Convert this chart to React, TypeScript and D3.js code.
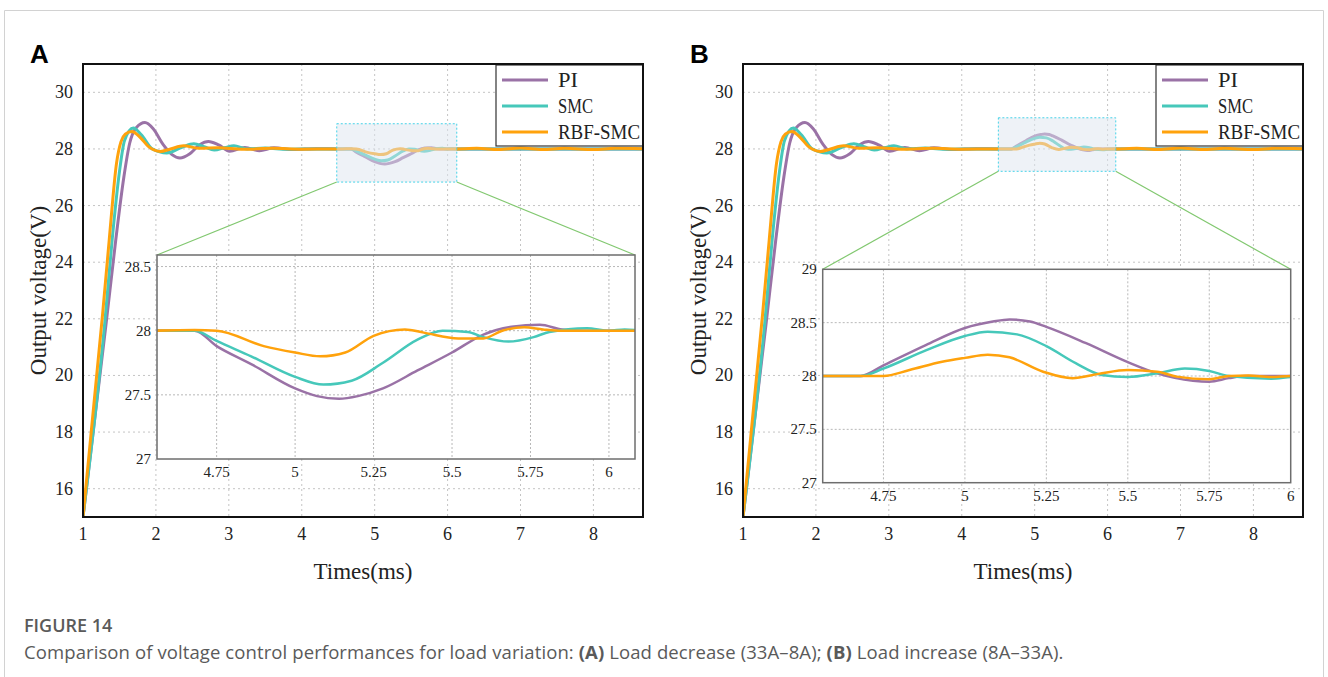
import * as React from "react";
import * as d3 from "d3";

type Pt = [number, number];

const seriesNames = ["PI", "SMC", "RBF-SMC"];
const seriesColors = ["#9a72a6", "#46c8ba", "#ffa20c"];
const legendWidths = [20, 35, 82];

const mainXTicks = [1, 2, 3, 4, 5, 6, 7, 8];
const mainYTicks = [16, 18, 20, 22, 24, 26, 28, 30];
const insetXTicks = [4.75, 5, 5.25, 5.5, 5.75, 6];
const insetYTicksA = [27, 27.5, 28, 28.5];
const insetYTicksB = [27, 27.5, 28, 28.5, 29];

// start-up transient, shared by both cases
const piStart: Pt[] = [
  [1, 15], [1.32, 21.9], [1.45, 24.8], [1.56, 27.0], [1.64, 28.2], [1.73, 28.75],
  [1.85, 28.93], [1.96, 28.72], [2.1, 28.15], [2.22, 27.8], [2.33, 27.68], [2.46, 27.82],
  [2.6, 28.15], [2.72, 28.26], [2.86, 28.14], [3.01, 27.92], [3.22, 28.05], [3.42, 27.94],
  [3.62, 28.04], [3.88, 27.98], [4.2, 28.01], [4.5, 28],
];
const smcStart: Pt[] = [
  [1, 15], [1.3, 21.9], [1.4, 24.8], [1.5, 27.2], [1.57, 28.3], [1.69, 28.74],
  [1.8, 28.5], [1.95, 28.0], [2.15, 27.86], [2.35, 28.05], [2.52, 28.18], [2.66, 28.08],
  [2.8, 27.96], [2.95, 28.05], [3.07, 28.11], [3.25, 28.0], [3.5, 28.03], [3.8, 27.99],
  [4.2, 28.0], [4.5, 28],
];
const rbfStart: Pt[] = [
  [1, 15], [1.27, 22.2], [1.36, 24.8], [1.46, 27.5], [1.52, 28.25], [1.58, 28.52],
  [1.67, 28.62], [1.78, 28.42], [1.9, 28.08], [2.06, 27.91], [2.2, 28.0], [2.38, 28.11],
  [2.6, 28.02], [2.85, 28.04], [3.2, 27.99], [3.6, 28.02], [4.0, 27.99], [4.5, 28.0],
];

// (A) load decrease
const piDropA: Pt[] = [
  [4.55, 28], [4.68, 28], [4.75, 27.88], [4.86, 27.74], [5.0, 27.55], [5.07, 27.49],
  [5.14, 27.47], [5.2, 27.49], [5.28, 27.55], [5.39, 27.69], [5.5, 27.83], [5.6, 27.97],
  [5.69, 28.03], [5.78, 28.046], [5.85, 28.01], [5.92, 28], [6.1, 28],
];
const smcDropA: Pt[] = [
  [4.55, 28], [4.68, 28], [4.75, 27.92], [4.86, 27.8], [5.0, 27.64], [5.09, 27.58],
  [5.18, 27.61], [5.28, 27.75], [5.39, 27.93], [5.47, 28.0], [5.55, 27.99], [5.6, 27.95],
  [5.68, 27.915], [5.76, 27.95], [5.81, 27.99], [5.93, 28.02], [6.0, 28.0], [6.05, 28.01],
  [6.1, 28],
];
const rbfDropA: Pt[] = [
  [4.55, 28], [4.68, 28.005], [4.75, 28.0], [4.9, 27.88], [5.0, 27.83], [5.08, 27.8],
  [5.16, 27.83], [5.25, 27.96], [5.35, 28.01], [5.41, 27.985], [5.52, 27.94], [5.6, 27.94],
  [5.66, 28.0], [5.73, 28.026], [5.79, 28.01], [5.85, 28.0], [6.1, 28],
];

// (B) load increase
const piRiseB: Pt[] = [
  [4.55, 28], [4.68, 28], [4.75, 28.1], [4.88, 28.29], [5.0, 28.45], [5.086, 28.51],
  [5.137, 28.53], [5.2, 28.51], [5.25, 28.46], [5.37, 28.31], [5.5, 28.13], [5.59, 28.025],
  [5.7, 27.956], [5.75, 27.947], [5.81, 27.98], [5.86, 28], [6.1, 28],
];
const smcRiseB: Pt[] = [
  [4.55, 28], [4.68, 28], [4.75, 28.07], [4.88, 28.24], [5.0, 28.375], [5.07, 28.415],
  [5.16, 28.39], [5.25, 28.28], [5.34, 28.12], [5.42, 28.01], [5.5, 27.99], [5.59, 28.025],
  [5.675, 28.07], [5.75, 28.047], [5.81, 28.0], [5.94, 27.975], [6.0, 27.99], [6.1, 28],
];
const rbfRiseB: Pt[] = [
  [4.55, 28], [4.75, 28], [4.83, 28.056], [4.93, 28.134], [5.0, 28.17], [5.07, 28.2],
  [5.137, 28.175], [5.24, 28.04], [5.33, 27.98], [5.41, 28.02], [5.5, 28.056], [5.59, 28.04],
  [5.65, 27.994], [5.75, 27.97], [5.81, 28.0], [5.87, 28.005], [5.94, 27.99], [6.0, 28],
  [6.1, 28],
];

// steady state after the load step
const flatTail: Pt[] = [[6.4, 28], [8.8, 28]];
const rbfTail: Pt[] = [
  [6.4, 28.02], [6.7, 27.98], [7.0, 28.03], [7.3, 27.98], [7.6, 28.02], [8.0, 27.98],
  [8.3, 28.02], [8.8, 28],
];

const serif = "'Liberation Serif', 'Times New Roman', serif";

type PanelProps = {
  id: string;
  letter: string;
  dx: number;
  step: Pt[][];
  inset: { x0: number; x1: number; y0: number; y1: number; xd: [number, number]; yd: [number, number]; yTicks: number[] };
  zoom: { xd: [number, number]; yd: [number, number] };
};

function Panel({ id, letter, dx, step, inset, zoom }: PanelProps) {
  const left = 83 + dx, right = 643 + dx, top = 64, bottom = 517;
  const x = d3.scaleLinear().domain([1, 8.68]).range([left, right]);
  const y = d3.scaleLinear().domain([15, 31]).range([bottom, top]);
  const ix = d3.scaleLinear().domain(inset.xd).range([inset.x0 + dx, inset.x1 + dx]);
  const iy = d3.scaleLinear().domain(inset.yd).range([inset.y1, inset.y0]);

  const mainLine = d3.line<Pt>().x(d => x(d[0])).y(d => y(d[1])).curve(d3.curveMonotoneX);
  const insetLine = d3.line<Pt>().x(d => ix(d[0])).y(d => iy(d[1])).curve(d3.curveMonotoneX);

  const full = [
    [...piStart, ...step[0], ...flatTail],
    [...smcStart, ...step[1], ...flatTail],
    [...rbfStart, ...step[2], ...rbfTail],
  ];

  const zx0 = x(zoom.xd[0]), zx1 = x(zoom.xd[1]);
  const zy0 = y(zoom.yd[1]), zy1 = y(zoom.yd[0]);
  const ibx0 = ix.range()[0], ibx1 = ix.range()[1];
  const iby0 = inset.y0, iby1 = inset.y1;

  const legX = 496 + dx, legY = 65;

  return (
    <g>
      <defs>
        <clipPath id={`main-${id}`}>
          <rect x={left} y={top} width={right - left} height={bottom - top} />
        </clipPath>
        <clipPath id={`inset-${id}`}>
          <rect x={ibx0} y={iby0} width={ibx1 - ibx0} height={iby1 - iby0} />
        </clipPath>
      </defs>

      <text x={30 + dx} y={63} fontFamily="'Liberation Sans', Arial, sans-serif" fontWeight="bold" fontSize={26}>
        {letter}
      </text>

      {/* main grid */}
      <g stroke="#c4c4c4" strokeWidth={1} strokeDasharray="2,3">
        {mainXTicks.slice(1).map(t => (
          <line key={`gx${t}`} x1={x(t)} x2={x(t)} y1={top} y2={bottom} />
        ))}
        {mainYTicks.map(t => (
          <line key={`gy${t}`} x1={left} x2={right} y1={y(t)} y2={y(t)} />
        ))}
      </g>

      <g clipPath={`url(#main-${id})`} fill="none" strokeWidth={3} strokeLinejoin="round">
        {full.map((d, i) => (
          <path key={i} d={mainLine(d) ?? ""} stroke={seriesColors[i]} />
        ))}
      </g>

      {/* zoom window */}
      <rect x={zx0} y={zy0} width={zx1 - zx0} height={zy1 - zy0} fill="#dde6f0" fillOpacity={0.5}
        stroke="#45d3e8" strokeWidth={1} strokeDasharray="2,2" />
      <g stroke="#82c870" strokeWidth={1.2}>
        <line x1={zx0} y1={zy1} x2={ibx0} y2={iby0} />
        <line x1={zx1} y1={zy1} x2={ibx1} y2={iby0} />
      </g>

      {/* inset */}
      <rect x={ibx0} y={iby0} width={ibx1 - ibx0} height={iby1 - iby0} fill="#fff" />
      <g stroke="#b8b8b8" strokeWidth={1} strokeDasharray="2,2">
        {insetXTicks.filter(t => t < inset.xd[1] - 0.01).map(t => (
          <line key={`ix${t}`} x1={ix(t)} x2={ix(t)} y1={iby0} y2={iby1} />
        ))}
        {inset.yTicks.filter(t => t > inset.yd[0] && t < inset.yd[1]).map(t => (
          <line key={`iy${t}`} x1={ibx0} x2={ibx1} y1={iy(t)} y2={iy(t)} />
        ))}
      </g>
      <g clipPath={`url(#inset-${id})`} fill="none" strokeWidth={2.5} strokeLinejoin="round">
        {step.map((d, i) => (
          <path key={i} d={insetLine(d) ?? ""} stroke={seriesColors[i]} />
        ))}
      </g>
      <rect x={ibx0} y={iby0} width={ibx1 - ibx0} height={iby1 - iby0} fill="none" stroke="#6e6e6e" strokeWidth={1.5} />
      <g fontFamily={serif} fontSize={15} fill="#222">
        {inset.yTicks.map(t => (
          <text key={`ly${t}`} x={ibx0 - 6} y={iy(t) + 5} textAnchor="end">{t}</text>
        ))}
        {insetXTicks.map(t => (
          <text key={`lx${t}`} x={ix(t)} y={iby1 + 18} textAnchor="middle">{t}</text>
        ))}
      </g>

      {/* legend */}
      <rect x={legX} y={legY} width={right - legX} height={81} fill="#fff" stroke="#333" strokeWidth={1.2} />
      {seriesNames.map((n, i) => (
        <g key={n}>
          <line x1={legX + 6} x2={legX + 52} y1={legY + 15 + i * 26} y2={legY + 15 + i * 26}
            stroke={seriesColors[i]} strokeWidth={3} />
          <text x={legX + 62} y={legY + 22 + i * 26} fontFamily={serif} fontSize={22} fill="#222"
            textLength={legendWidths[i]} lengthAdjust="spacingAndGlyphs">{n}</text>
        </g>
      ))}

      <rect x={left} y={top} width={right - left} height={bottom - top} fill="none" stroke="#111" strokeWidth={2} />

      {/* axes labels */}
      <g fontFamily={serif} fontSize={18} fill="#222">
        {mainYTicks.map(t => (
          <text key={`my${t}`} x={left - 10} y={y(t) + 6} textAnchor="end">{t}</text>
        ))}
        {mainXTicks.map(t => (
          <text key={`mx${t}`} x={x(t)} y={bottom + 23} textAnchor="middle">{t}</text>
        ))}
      </g>
      <text x={(left + right) / 2} y={579} textAnchor="middle" fontFamily={serif} fontSize={23} fill="#222">
        Times(ms)
      </text>
      <text transform={`translate(${46 + dx},${(top + bottom) / 2}) rotate(-90)`} textAnchor="middle"
        fontFamily={serif} fontSize={23} fill="#222">
        Output voltage(V)
      </text>
    </g>
  );
}

export default function App() {
  return (
    <svg width={1328} height={677} style={{ position: "absolute", left: 0, top: 0, background: "#fff" }}>
      <rect width={1328} height={677} fill="#fff" />
      <path d="M4.5,677 V10.5 H1323.5 V677" fill="none" stroke="#d2d2d2" strokeWidth={1} />
      <Panel id="a" letter="A" dx={0} step={[piDropA, smcDropA, rbfDropA]}
        inset={{ x0: 157, x1: 635, y0: 255, y1: 459, xd: [4.56, 6.083], yd: [27, 28.59], yTicks: insetYTicksA }}
        zoom={{ xd: [4.48, 6.126], yd: [26.83, 28.89] }} />
      <Panel id="b" letter="B" dx={660} step={[piRiseB, smcRiseB, rbfRiseB]}
        inset={{ x0: 162.7, x1: 630.7, y0: 269.3, y1: 482.7, xd: [4.5635, 6.0], yd: [27, 29], yTicks: insetYTicksB }}
        zoom={{ xd: [4.502, 6.112], yd: [27.21, 29.1] }} />
      <g fontFamily="'Open Sans', 'Noto Sans', sans-serif" fill="#5a5a5a">
        <text x={24} y={632} fontSize={18} fontWeight={600}>FIGURE 14</text>
        <text x={24} y={659} fontSize={18.5} letterSpacing={0.1}>
          Comparison of voltage control performances for load variation: <tspan fontWeight={700}>(A)</tspan> Load
          decrease (33A–8A); <tspan fontWeight={700}>(B)</tspan> Load increase (8A–33A).
        </text>
      </g>
    </svg>
  );
}
